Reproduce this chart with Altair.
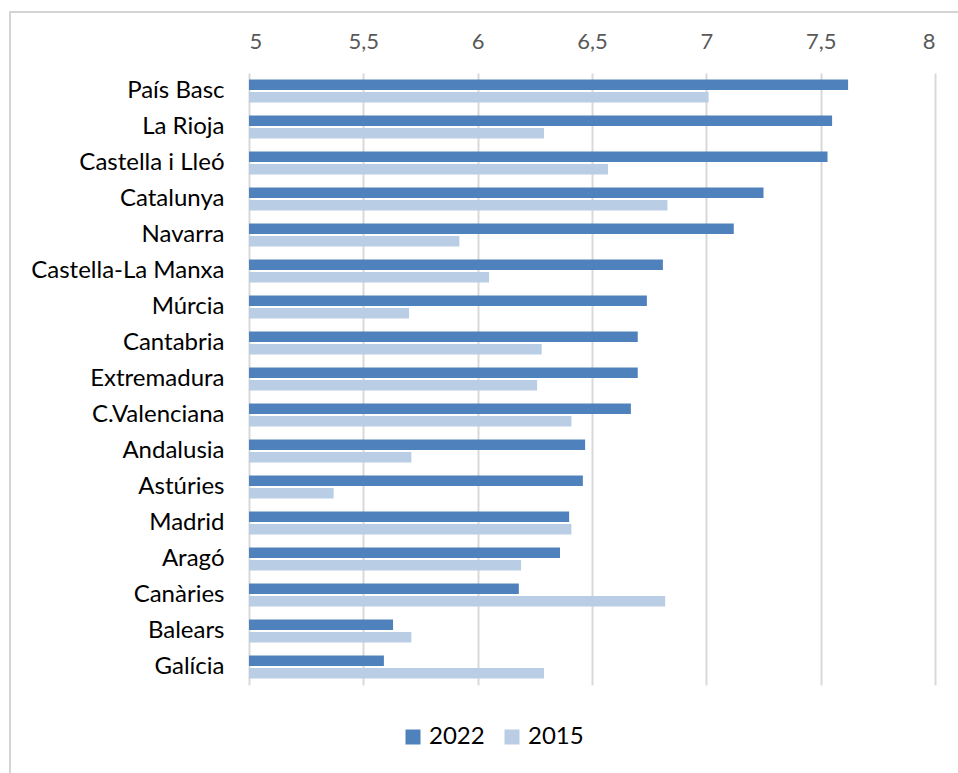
import altair as alt
import pandas as pd

# Regions, top to bottom
regions = ["País Basc", "La Rioja", "Castella i Lleó", "Catalunya", "Navarra",
           "Castella-La Manxa", "Múrcia", "Cantabria", "Extremadura", "C.Valenciana",
           "Andalusia", "Astúries", "Madrid", "Aragó", "Canàries", "Balears", "Galícia"]
values_2022 = [7.62, 7.55, 7.53, 7.25, 7.12, 6.81, 6.74, 6.70, 6.70, 6.67,
               6.47, 6.46, 6.40, 6.36, 6.18, 5.63, 5.59]
values_2015 = [7.01, 6.29, 6.57, 6.83, 5.92, 6.05, 5.70, 6.28, 6.26, 6.41,
               5.71, 5.37, 6.41, 6.19, 6.82, 5.71, 6.29]
series = ["2022", "2015"]
colors = ["#4f81bd", "#b9cde5"]
x_ticks = [5, 5.5, 6, 6.5, 7, 7.5, 8]

rows = []
for r, a, b in zip(regions, values_2022, values_2015):
    rows.append({"regio": r, "any": "2022", "valor": a})
    rows.append({"regio": r, "any": "2015", "valor": b})
df = pd.DataFrame(rows)

FONT = "Lato"
FRAME = "#d4d4d4"

bars = alt.Chart(df).mark_bar().encode(
    x=alt.X("valor:Q",
            scale=alt.Scale(domain=[5, 8], zero=False, nice=False),
            axis=alt.Axis(orient="top", values=x_ticks, title=None,
                          labelExpr="replace(format(datum.value, '.1~f'), '.', ',')",
                          ticks=False, domain=False, labelPadding=20,
                          labelFontSize=22, labelColor="#595959", labelFont=FONT,
                          grid=True, gridColor="#d9d9d9", gridWidth=2)),
    x2=alt.datum(5),
    y=alt.Y("regio:N", sort=regions,
            scale=alt.Scale(paddingInner=0.36, paddingOuter=0.18),
            axis=alt.Axis(title=None, ticks=False, domain=False, labelPadding=25,
                          labelFontSize=24, labelColor="#000000", labelFont=FONT,
                          labelLimit=400)),
    yOffset=alt.YOffset("any:N", sort=series,
                        scale=alt.Scale(domain=series, paddingInner=0.15)),
    color=alt.Color("any:N",
                    scale=alt.Scale(domain=series, range=colors),
                    legend=alt.Legend(orient="none", legendX=152, legendY=652,
                                      direction="horizontal", title=None,
                                      symbolType="square", symbolSize=225,
                                      symbolStrokeWidth=0, labelFontSize=24,
                                      labelFont=FONT, labelColor="#000000",
                                      labelOffset=4, columnPadding=15)),
)

# outer chart frame: top and left edges fall inside the canvas
frame = alt.Chart(df).mark_rect(fill=None, stroke=FRAME, strokeWidth=1.5).encode(
    x=alt.value(-239), x2=alt.value(1200), y=alt.value(-61), y2=alt.value(1000)
)

chart = alt.layer(frame, bars).properties(
    width=686, height=612,
    padding={"left": 249, "top": 73, "right": 23, "bottom": 88},
    autosize=alt.AutoSizeParams(type="none"),
    background="#ffffff",
).configure_view(stroke=None)

chart.save("out.html", embed_options={"renderer": "svg", "actions": False})
